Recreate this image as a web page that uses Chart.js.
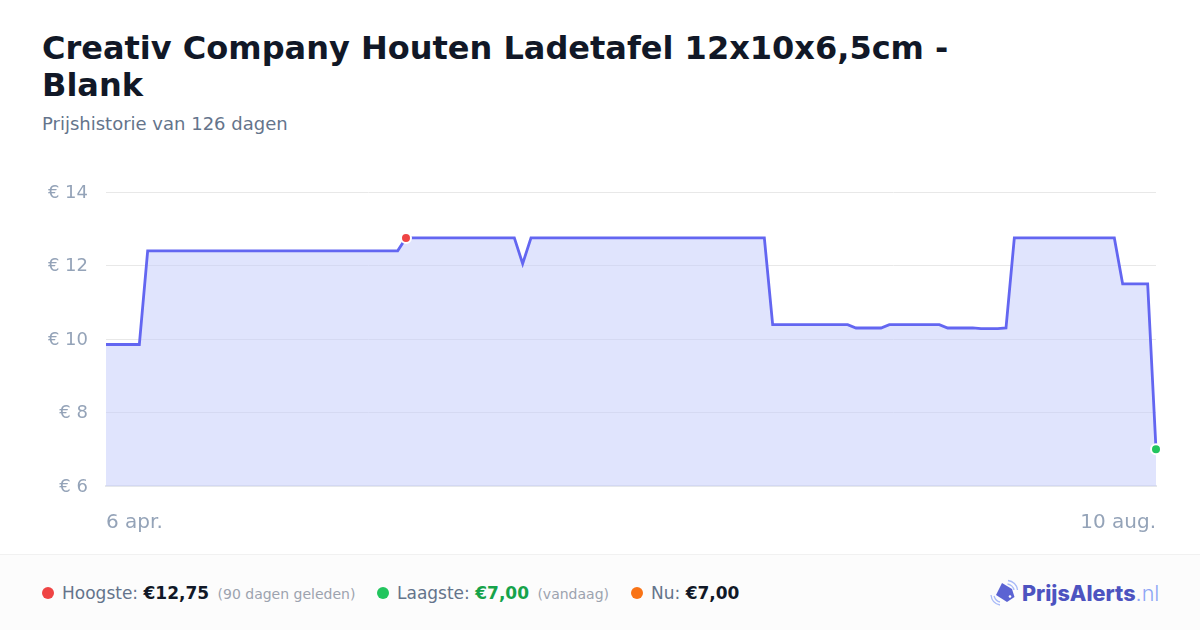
<!DOCTYPE html>
<html lang="nl"><head><meta charset="utf-8">
<script src="https://cdn.jsdelivr.net/npm/chart.js@4"></script>
<style>
html,body{margin:0;padding:0;width:1200px;height:630px;overflow:hidden;background:#fff;font-family:"DejaVu Sans",sans-serif}
#t{position:absolute;left:42px;top:30px;width:1000px;margin:0;font-size:32px;line-height:37px;font-weight:700;color:#111827}
#s{position:absolute;left:42px;top:113px;font-size:18px;line-height:22px;color:#64748b}
#c{position:absolute;left:0;top:0;width:1200px;height:550px}
#f{position:absolute;left:0;top:554px;width:1200px;height:76px;background:#fcfcfc;border-top:1px solid #f1f1f1;box-sizing:border-box}
.i{position:absolute;top:0;height:76px;line-height:76px;white-space:nowrap;font-size:17px;color:#64748b}
.d{position:absolute;top:32px;width:12px;height:12px;border-radius:50%}
.i b{color:#111827;font-size:17px}
.i small{font-size:14px;color:#9ca3af;margin-left:3px}
#l{position:absolute;left:1022px;top:0;line-height:76px;font-family:Inter,sans-serif;font-size:21.6px;font-weight:800;color:#4d53c0;white-space:nowrap}
#l span{font-weight:300;color:#8ea6f5}
#g{position:absolute;left:990px;top:23px}
</style></head><body>
<h1 id="t">Creativ Company Houten Ladetafel 12x10x6,5cm - Blank</h1>
<div id="s">Prijshistorie van 126 dagen</div>
<canvas id="c" width="1200" height="550"></canvas>
<div id="f">
<span class="d" style="left:42px;background:#ef4444"></span>
<span class="i" style="left:62px">Hoogste: <b>€12,75</b> <small>(90 dagen geleden)</small></span>
<span class="d" style="left:377px;background:#22c55e"></span>
<span class="i" style="left:397px">Laagste: <b style="color:#16a34a">€7,00</b> <small>(vandaag)</small></span>
<span class="d" style="left:631px;background:#f97316"></span>
<span class="i" style="left:651px">Nu: <b>€7,00</b></span>
<svg id="g" width="30" height="30" viewBox="0 0 30 30" fill="none">
<path d="M12 5 L22 11 L24.5 19 L17 24 L6 17 Z" fill="#5b63d3"/>
<circle cx="20" cy="18.5" r="1.3" fill="#fff"/>
<path d="M18 2.500 C23 3 27 7 27.500 12" stroke="#a8baf8" stroke-width="1.300"/>
<path d="M17.500 6 C20.500 6.500 23.500 9 24 12" stroke="#a8baf8" stroke-width="1.300"/>
<path d="M1 17 C1.500 22 5 26 10 27" stroke="#a8baf8" stroke-width="1.300"/>
<path d="M4 18 C5 21 7 23.500 10 24" stroke="#a8baf8" stroke-width="1.300"/>
</svg>
<div id="l">PrijsAlerts<span>.nl</span></div>
</div>
<script>
const dates=["6 apr.","7 apr.","8 apr.","9 apr.","10 apr.","11 apr.","12 apr.","13 apr.","14 apr.","15 apr.","16 apr.","17 apr.","18 apr.","19 apr.","20 apr.","21 apr.","22 apr.","23 apr.","24 apr.","25 apr.","26 apr.","27 apr.","28 apr.","29 apr.","30 apr.",
"1 mei","2 mei","3 mei","4 mei","5 mei","6 mei","7 mei","8 mei","9 mei","10 mei","11 mei","12 mei","13 mei","14 mei","15 mei","16 mei","17 mei","18 mei","19 mei","20 mei","21 mei","22 mei","23 mei","24 mei","25 mei","26 mei","27 mei","28 mei","29 mei","30 mei","31 mei",
"1 jun.","2 jun.","3 jun.","4 jun.","5 jun.","6 jun.","7 jun.","8 jun.","9 jun.","10 jun.","11 jun.","12 jun.","13 jun.","14 jun.","15 jun.","16 jun.","17 jun.","18 jun.","19 jun.","20 jun.","21 jun.","22 jun.","23 jun.","24 jun.","25 jun.","26 jun.","27 jun.","28 jun.","29 jun.","30 jun.",
"1 jul.","2 jul.","3 jul.","4 jul.","5 jul.","6 jul.","7 jul.","8 jul.","9 jul.","10 jul.","11 jul.","12 jul.","13 jul.","14 jul.","15 jul.","16 jul.","17 jul.","18 jul.","19 jul.","20 jul.","21 jul.","22 jul.","23 jul.","24 jul.","25 jul.","26 jul.","27 jul.","28 jul.","29 jul.","30 jul.","31 jul.",
"1 aug.","2 aug.","3 aug.","4 aug.","5 aug.","6 aug.","7 aug.","8 aug.","9 aug.","10 aug."];
const prices=[9.85,9.85,9.85,9.85,9.85,
12.4,12.4,12.4,12.4,12.4,12.4,12.4,12.4,12.4,12.4,12.4,12.4,12.4,12.4,12.4,12.4,12.4,12.4,12.4,12.4,12.4,12.4,12.4,12.4,12.4,12.4,12.4,12.4,12.4,12.4,12.4,
12.75,12.75,12.75,12.75,12.75,12.75,12.75,12.75,12.75,12.75,12.75,12.75,12.75,12.75,
12.05,
12.75,12.75,12.75,12.75,12.75,12.75,12.75,12.75,12.75,12.75,12.75,12.75,12.75,12.75,12.75,12.75,12.75,12.75,12.75,12.75,12.75,12.75,12.75,12.75,12.75,12.75,12.75,12.75,12.75,
10.39,10.39,10.39,10.39,10.39,10.39,10.39,10.39,10.39,10.39,
10.3,10.3,10.3,10.3,
10.39,10.39,10.39,10.39,10.39,10.39,10.39,
10.3,10.3,10.3,10.3,
10.28,10.28,10.28,
10.3,
12.75,12.75,12.75,12.75,12.75,12.75,12.75,12.75,12.75,12.75,12.75,12.75,12.75,
11.5,11.5,11.5,11.5,
7];
const yTicks=[6,8,10,12,14];
const highIndex=36, lowIndex=126;
new Chart(document.getElementById('c'),{
 type:'line',
 data:{labels:dates,datasets:[{data:prices,borderColor:'#6366f1',borderWidth:2.8,backgroundColor:'rgba(193,201,251,0.5)',fill:'origin',tension:0,clip:false,
  pointRadius:c=>(c.dataIndex===highIndex||c.dataIndex===lowIndex)?5:0,
  pointBackgroundColor:c=>c.dataIndex===highIndex?'#ef4444':'#22c55e',
  pointBorderColor:'#fff',pointBorderWidth:2,pointHoverRadius:5}]},
 options:{responsive:false,animation:false,
  layout:{padding:{left:0,right:44,top:192,bottom:0}},
  plugins:{legend:{display:false},tooltip:{enabled:false}},
  scales:{
   x:{grid:{display:false},border:{color:'#e5e7eb',width:2},offset:false,
    afterFit:a=>{a.height=64},
    ticks:{autoSkip:false,maxRotation:0,align:'inner',padding:17,color:'#94a3b8',font:{family:'"DejaVu Sans"',size:20},
     callback(v,i){return (i===0||i===dates.length-1)?dates[i]:''}}},
   y:{min:6,max:14,afterFit:a=>{a.width=106},
    afterBuildTicks:a=>{a.ticks=yTicks.map(v=>({value:v}))},
    grid:{color:'#e8e8e8',lineWidth:1,drawTicks:false},border:{display:false},
    ticks:{padding:18,color:'#94a3b8',font:{family:'"DejaVu Sans"',size:18,lineHeight:2/18},callback:v=>['','€ '+v]}}
  }}
});
</script></body></html>
